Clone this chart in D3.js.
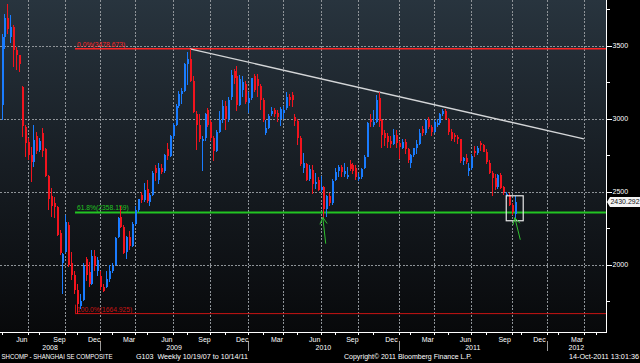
<!DOCTYPE html>
<meta charset="utf-8">
<style>
body { margin: 0; background: #000; }
svg { display: block; }
text { font-family: "Liberation Sans", Arial, sans-serif; }
</style>
<body>
<script src="https://d3js.org/d3.v7.min.js"></script>
<script>

var width = 640,
    height = 363,
    plotRight = 606,
    plotBottom = 332;

/*
  Weekly bars: every Friday from the first week to the last,
  less the weeks the exchange was shut all week
*/
var firstWeek = "2008-04-25",
    lastWeek = "2011-10-14";
var closedWeeks = ["2008-10-03", "2009-01-30", "2010-02-19", "2011-10-07"];

var open = [
  3094,3557,3693,3560,3626,3473,3433,3219,2945,2840,2750,2703,2880,2788,2900,2790,2610,2470,2420,2397,2220,2014,2090,2274,2014,1930,1830,1720,1760,2040,1950,1871,2061,1960,1920,
  1850,1850,1900,1960,1995,2190,2330,2260,2085,2190,2130,2280,2375,2480,2440,2520,2430,2480,2665,2580,2660,2640,2790,2745,2880,2960,3090,3170,3190,3372,3412,3260,3030,2960,2845,2870,3060,2980,2870,2780,2911,2990,3090,2996,3150,3330,3290,3096,3200,3240,3110,
  3140,3290,3270,3224,3128,2900,2935,3030,3060,3040,3000,3040,3070,3150,3160,3010,2983,2870,2660,2690,2590,2650,2550,2580,2510,2530,2380,2470,2420,2580,2640,2670,2620,2600,2690,2680,2660,2590,2600,2660,2740,3000,2960,2980,3140,2990,2900,2880,2850,2830,2890,2833,
  2800,2840,2790,2700,2752,2798,2830,2930,2900,3000,2944,2906,2960,2968,3030,3050,2999,2911,2890,2872,2858,2710,2730,2640,2660,2780,2762,2835,2820,2775,2700,2626,2593,2534,2612,2530,2470,2480,2410,2344
];
var high = [
  3583,3720,3786,3712,3640,3493,3438,3225,2960,2870,2808,2959,2911,2870,2938,2801,2616,2527,2466,2400,2240,2082,2342,2290,2090,1960,1870,1800,2010,2055,2020,2103,2100,2050,1960,
  1870,1960,2000,2010,2190,2330,2402,2270,2200,2230,2290,2400,2450,2500,2560,2580,2490,2640,2680,2700,2690,2760,2836,2890,2970,3100,3190,3210,3380,3460,3478,3290,3050,3030,2880,3040,3075,2993,2880,2920,3050,3130,3123,3150,3336,3340,3361,3300,3290,3260,3180,
  3280,3306,3306,3240,3140,2990,3030,3080,3070,3060,3080,3090,3180,3170,3181,3030,3000,2880,2768,2700,2680,2680,2630,2600,2610,2540,2480,2490,2590,2664,2685,2680,2700,2670,2720,2700,2680,2630,2660,2750,2980,3030,3060,3160,3186,3000,2920,2900,2880,2930,2920,2850,
  2860,2860,2800,2760,2800,2856,2930,2950,3000,3010,2960,2990,3000,3040,3067,3067,3005,2930,2900,2890,2860,2740,2760,2700,2760,2810,2810,2850,2827,2790,2720,2640,2620,2620,2630,2540,2500,2490,2420,2470
];
var low = [
  2990,3480,3580,3520,3356,3336,3322,2877,2740,2719,2566,2671,2760,2770,2740,2600,2377,2330,2320,2200,2065,1802,2080,1985,1894,1800,1665,1700,1750,1890,1850,1860,1960,1920,1826,
  1814,1840,1880,1940,1990,2180,2250,2070,2037,2100,2120,2270,2360,2420,2430,2420,2400,2470,2570,2555,2620,2630,2720,2740,2860,2950,3075,3100,3180,3230,3250,3040,2785,2840,2639,2850,2940,2850,2712,2770,2900,2970,2920,2980,3130,3240,3050,3090,3150,3100,3040,
  3130,3180,3150,3062,2980,2890,2930,3020,3010,2980,2950,3000,3060,3090,3080,2950,2822,2679,2630,2570,2570,2481,2520,2505,2495,2319,2330,2400,2410,2570,2600,2600,2600,2590,2640,2620,2580,2570,2590,2655,2735,2940,2940,2970,2940,2800,2810,2800,2800,2820,2800,2722,
  2790,2760,2700,2661,2740,2760,2820,2880,2890,2930,2880,2900,2940,2960,3020,2990,2890,2850,2840,2830,2700,2680,2690,2610,2650,2740,2750,2780,2770,2690,2620,2470,2510,2520,2520,2480,2450,2400,2340,2307
];
var close = [
  3557,3693,3613,3626,3473,3433,3376,2950,2831,2748,2703,2855,2777,2850,2776,2605,2450,2405,2397,2202,2079,2075,2293,2000,1930,1830,1729,1748,1990,1930,1871,2061,1990,2030,1850,
  1821,1904,1954,1991,2181,2320,2261,2082,2193,2128,2281,2374,2449,2444,2514,2434,2477,2626,2625,2660,2632,2751,2743,2880,2959,3088,3170,3189,3372,3412,3260,3046,2960,2860,2861,3030,2960,2870,2779,2911,2990,3090,2996,3130,3300,3280,3096,3275,3250,3114,3140,
  3277,3196,3224,3128,2989,2935,3018,3051,3031,3013,3068,3060,3150,3130,3130,2983,2870,2688,2697,2583,2656,2553,2569,2514,2535,2382,2470,2424,2573,2637,2672,2634,2642,2615,2655,2640,2598,2599,2655,2738,2971,2975,2978,3129,2985,2888,2871,2842,2830,2885,2833,2808,
  2838,2791,2715,2752,2798,2828,2899,2900,2993,2944,2906,2977,2968,3030,3050,2999,2911,2863,2872,2858,2710,2728,2705,2660,2746,2762,2797,2820,2775,2701,2626,2593,2534,2612,2528,2497,2482,2410,2359,2430.292
];

var yMajor = [2000, 2500, 3000, 3500],
    yMinor = [1750, 2250, 2750, 3250, 3750];

/*
  Drawn studies: retracement levels, trend line, arrows, box
*/
var fibLabels = ["0.0%(3478.673)", "61.8%(2358.159)", "100.0%(1664.925)"],
    fibValues = [3478.673, 2358.159, 1664.925],
    fibColors = ["#ff2424", "#22c422", "#c81414"],
    fibWidths = [1.6, 2, 1];
var fibStartBar = 25.35;
var trendFrom = [65, 3478.673],
    trendTo = [200.8, 2862];
var arrowTips = [[110.8, 2324], [177, 2322]],
    arrowTails = [[111.8, 2144], [178.9, 2171]];
var boxBars = [174.05, 179.9],
    boxValues = [2472, 2301];

var footLeft = "SHCOMP - SHANGHAI SE COMPOSITE",
    footRange = "G103  Weekly 10/19/07 to 10/14/11",
    footCopy = "Copyright\u00a9 2011 Bloomberg Finance L.P.",
    footStamp = "14-Oct-2011 13:01:36";

/* ---------------------------------------------------------------- */

var parse = d3.timeParse("%Y-%m-%d");
var weeks = d3.timeFriday.range(parse(firstWeek), d3.timeDay.offset(parse(lastWeek), 1))
  .filter(function(d) { return closedWeeks.indexOf(d3.timeFormat("%Y-%m-%d")(d)) < 0; });

var bars = weeks.map(function(d, i) {
  return { date: d, i: i, o: open[i], h: high[i], l: low[i], c: close[i] };
});

// calendar carried on past the last bar so the axis reaches 2012
var axisWeeks = weeks.slice();
var t = d3.timeWeek.offset(weeks[weeks.length - 1], 1);
while (axisWeeks.length < 214) { axisWeeks.push(t); t = d3.timeWeek.offset(t, 1); }

var x = d3.scaleLinear().domain([0, 1]).range([1.5, 4.4]);
var y = d3.scaleLinear().domain([2000, 3500]).range([264.7, 45.7]);

var svg = d3.select("body").append("svg")
    .attr("width", width)
    .attr("height", height);

var grad = svg.append("defs").append("linearGradient")
    .attr("id", "bg").attr("x1", 0).attr("y1", 0).attr("x2", 0).attr("y2", 1);
grad.append("stop").attr("offset", "0%").attr("stop-color", "#28343e");
grad.append("stop").attr("offset", "50%").attr("stop-color", "#171d23");
grad.append("stop").attr("offset", "100%").attr("stop-color", "#08090b");

svg.append("rect").attr("width", width).attr("height", height).attr("fill", "#000");
svg.append("rect").attr("width", plotRight).attr("height", plotBottom).attr("fill", "url(#bg)");

/* month ends along the bar calendar */
var monthEnds = [];
axisWeeks.forEach(function(d, i) {
  var n = axisWeeks[i + 1];
  if (n && n.getMonth() !== d.getMonth()) monthEnds.push({ date: d, i: i });
});

var quarters = [];
monthEnds.forEach(function(m, k) {
  if (k > 0 && m.date.getMonth() % 3 === 2 && x(m.i) < plotRight) {
    quarters.push({ date: m.date, x: x(m.i), mid: (x(monthEnds[k - 1].i) + x(m.i)) / 2 });
  }
});

var grid = svg.append("g")
    .attr("stroke", "#8e9398")
    .attr("stroke-width", 1)
    .attr("stroke-dasharray", "2,1.5")
    .attr("shape-rendering", "crispEdges");

grid.selectAll(".vg").data(quarters).enter().append("line")
    .attr("x1", function(d) { return Math.round(d.x) + 0.5; })
    .attr("x2", function(d) { return Math.round(d.x) + 0.5; })
    .attr("y1", 0).attr("y2", plotBottom);

grid.selectAll(".hg").data(yMajor).enter().append("line")
    .attr("x1", 0).attr("x2", plotRight)
    .attr("y1", function(d) { return Math.round(y(d)) + 0.5; })
    .attr("y2", function(d) { return Math.round(y(d)) + 0.5; });

/* retracement levels */
var fibs = fibValues.map(function(v, k) {
  return { v: v, label: fibLabels[k], color: fibColors[k], w: fibWidths[k] };
});
var fx = Math.round(x(fibStartBar));

svg.selectAll(".fib").data(fibs).enter().append("line")
    .attr("x1", fx).attr("x2", plotRight)
    .attr("y1", function(d) { return y(d.v); })
    .attr("y2", function(d) { return y(d.v); })
    .attr("stroke", function(d) { return d.color; })
    .attr("stroke-width", function(d) { return d.w; });

svg.append("line")
    .attr("x1", fx + 0.5).attr("x2", fx + 0.5)
    .attr("y1", y(fibValues[2]) - 9).attr("y2", y(fibValues[2]))
    .attr("stroke", fibColors[2]).attr("stroke-width", 1);

svg.selectAll(".fibText").data(fibs).enter().append("text")
    .attr("x", fx + 2)
    .attr("y", function(d) { return y(d.v) - 2; })
    .attr("fill", function(d) { return d.color; })
    .attr("font-size", "7px")
    .attr("textLength", function(d) { return d.label.length * 3.45; })
    .attr("lengthAdjust", "spacingAndGlyphs")
    .text(function(d) { return d.label; });

/* trend line */
svg.append("line")
    .attr("x1", x(trendFrom[0])).attr("y1", y(trendFrom[1]))
    .attr("x2", x(trendTo[0])).attr("y2", y(trendTo[1]))
    .attr("stroke", "#d4d6d8")
    .attr("stroke-width", 1.4);

/* candles */
var up = "#1a7cff", down = "#f2141e";
var candle = svg.append("g").attr("shape-rendering", "crispEdges")
  .selectAll("g").data(bars).enter().append("g");

candle.append("rect")
    .attr("x", function(d) { return Math.round(x(d.i)); })
    .attr("width", 1)
    .attr("y", function(d) { return y(d.h); })
    .attr("height", function(d) { return Math.max(1, y(d.l) - y(d.h)); })
    .attr("fill", function(d) { return d.c >= d.o ? up : down; });

candle.append("rect")
    .attr("x", function(d) { return Math.round(x(d.i)) - 0.5; })
    .attr("width", 2)
    .attr("y", function(d) { return y(Math.max(d.o, d.c)); })
    .attr("height", function(d) { return Math.max(1, Math.abs(y(d.o) - y(d.c))); })
    .attr("fill", function(d) { return d.c >= d.o ? up : down; });

/* box round the last weeks */
svg.append("rect")
    .attr("x", x(boxBars[0])).attr("y", y(boxValues[0]))
    .attr("width", x(boxBars[1]) - x(boxBars[0]))
    .attr("height", y(boxValues[1]) - y(boxValues[0]))
    .attr("fill", "none")
    .attr("stroke", "#e8e8e8")
    .attr("stroke-width", 1.2);

/* arrows */
arrowTips.forEach(function(tip, k) {
  var tx = x(tip[0]), ty = y(tip[1]),
      ex = x(arrowTails[k][0]), ey = y(arrowTails[k][1]);
  var a = Math.atan2(ey - ty, ex - tx), len = 7.5, spread = 0.5;
  var p = d3.path();
  p.moveTo(ex, ey); p.lineTo(tx, ty);
  p.moveTo(tx + len * Math.cos(a - spread), ty + len * Math.sin(a - spread));
  p.lineTo(tx, ty);
  p.lineTo(tx + len * Math.cos(a + spread), ty + len * Math.sin(a + spread));
  svg.append("path")
      .attr("d", p.toString())
      .attr("fill", "none")
      .attr("stroke", "#2fbf2f")
      .attr("stroke-width", 1);
});

/* right axis */
var axisY = svg.append("g").attr("shape-rendering", "crispEdges");
axisY.append("line")
    .attr("x1", plotRight + 0.5).attr("x2", plotRight + 0.5)
    .attr("y1", 0).attr("y2", plotBottom + 1)
    .attr("stroke", "#fff");
axisY.selectAll(".ymaj").data(yMajor).enter().append("line")
    .attr("x1", plotRight).attr("x2", plotRight + 6)
    .attr("y1", function(d) { return Math.round(y(d)) + 0.5; })
    .attr("y2", function(d) { return Math.round(y(d)) + 0.5; })
    .attr("stroke", "#fff");
axisY.selectAll(".ymin").data(yMinor).enter().append("line")
    .attr("x1", plotRight).attr("x2", plotRight + 4)
    .attr("y1", function(d) { return Math.round(y(d)) + 0.5; })
    .attr("y2", function(d) { return Math.round(y(d)) + 0.5; })
    .attr("stroke", "#fff");
svg.selectAll(".ylab").data(yMajor).enter().append("text")
    .attr("x", plotRight + 6.5)
    .attr("y", function(d) { return y(d) + 2.6; })
    .attr("fill", "#fff")
    .attr("font-size", "7px")
    .text(function(d) { return d; });

/* last price tag */
var lastY = y(close[close.length - 1]);
svg.append("path")
    .attr("d", "M" + (plotRight + 1) + "," + lastY +
               "L" + (plotRight + 4) + "," + (lastY - 5) +
               "H" + width + "V" + (lastY + 5) +
               "H" + (plotRight + 4) + "Z")
    .attr("fill", "#f4f4f4");
svg.append("text")
    .attr("x", plotRight + 4.5)
    .attr("y", lastY + 2.6)
    .attr("fill", "#111")
    .attr("font-size", "7px")
    .attr("textLength", 29)
    .attr("lengthAdjust", "spacingAndGlyphs")
    .text(d3.format(".3f")(close[close.length - 1]));

/* bottom axis */
var axisX = svg.append("g").attr("shape-rendering", "crispEdges");
axisX.append("line")
    .attr("x1", 0).attr("x2", plotRight + 1)
    .attr("y1", plotBottom + 0.5).attr("y2", plotBottom + 0.5)
    .attr("stroke", "#fff");

var minorTicks = monthEnds.filter(function(m) {
  return m.date.getMonth() % 3 === 0 && x(m.i) < plotRight;
});
axisX.selectAll(".xt").data(quarters.map(function(q) { return q.x; })
      .concat(minorTicks.map(function(m) { return x(m.i); })))
    .enter().append("line")
    .attr("x1", function(d) { return Math.round(d) + 0.5; })
    .attr("x2", function(d) { return Math.round(d) + 0.5; })
    .attr("y1", plotBottom).attr("y2", plotBottom + 3)
    .attr("stroke", "#fff");

svg.selectAll(".mlab").data(quarters).enter().append("text")
    .attr("x", function(d) { return d.mid; })
    .attr("y", 341.5)
    .attr("text-anchor", "middle")
    .attr("fill", "#fff")
    .attr("font-size", "7px")
    .text(function(d) { return d3.timeFormat("%b")(d.date); });

var decEnds = quarters.filter(function(q) { return q.date.getMonth() === 11; });
axisX.selectAll(".ysep").data(decEnds).enter().append("line")
    .attr("x1", function(d) { return Math.round(d.x) + 0.5; })
    .attr("x2", function(d) { return Math.round(d.x) + 0.5; })
    .attr("y1", 341).attr("y2", 351)
    .attr("stroke", "#9a9a9a");

var bounds = [0].concat(decEnds.map(function(d) { return d.x; })).concat([plotRight]);
var years = d3.range(bounds.length - 1).map(function(k) {
  return { year: 2008 + k, mid: (bounds[k] + bounds[k + 1]) / 2 };
});
svg.selectAll(".ylabx").data(years).enter().append("text")
    .attr("x", function(d) { return d.mid; })
    .attr("y", 350)
    .attr("text-anchor", "middle")
    .attr("fill", "#fff")
    .attr("font-size", "7px")
    .text(function(d) { return d.year; });

/* footer */
var foot = [
  [footLeft, 1.5, 111], [footRange, 136, 112],
  [footCopy, 344, 128], [footStamp, 569, 70]
];
svg.selectAll(".foot").data(foot).enter().append("text")
    .attr("x", function(d) { return d[1]; })
    .attr("y", 358.5)
    .attr("fill", "#fff")
    .attr("font-size", "7.5px")
    .attr("textLength", function(d) { return d[2]; })
    .attr("lengthAdjust", "spacingAndGlyphs")
    .attr("xml:space", "preserve")
    .style("white-space", "pre")
    .text(function(d) { return d[0]; });

</script>
